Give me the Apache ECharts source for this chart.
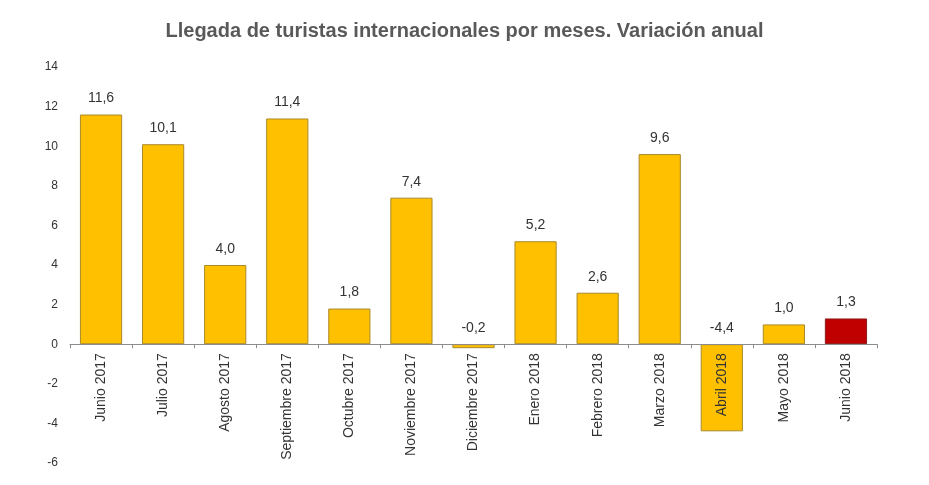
<!DOCTYPE html>
<html>
<head>
<meta charset="utf-8">
<script src="https://cdn.jsdelivr.net/npm/echarts@6/dist/echarts.min.js"></script>
<style>
html,body{margin:0;padding:0;background:#fff;}
#chart{width:929px;height:485px;}
</style>
</head>
<body>
<div id="chart"></div>
<script>
var categories = ['Junio 2017','Julio 2017','Agosto 2017','Septiembre 2017','Octubre 2017','Noviembre 2017','Diciembre 2017','Enero 2018','Febrero 2018','Marzo 2018','Abril 2018','Mayo 2018','Junio 2018'];
var values = [11.6, 10.1, 4.0, 11.4, 1.8, 7.4, -0.2, 5.2, 2.6, 9.6, -4.4, 1.0, 1.3];
var highlightIndex = 12;
var titleText = 'Llegada de turistas internacionales por meses. Variación anual';
var yMin = -6, yMax = 14, yStep = 2;

var gridTop = 67, gridBottom = 22, H = 485;
var plotH = H - gridTop - gridBottom;
var zeroOffset = -plotH * (0 - yMin) / (yMax - yMin);

var chart = echarts.init(document.getElementById('chart'), null, {renderer:'canvas'});
var data = values.map(function(v, i){
  return {
    value: v,
    itemStyle: i === highlightIndex ? {color:'#C00000', borderColor:'#8B1A1A'} : {color:'#FFC000', borderColor:'#A88A2A'}
  };
});
chart.setOption({
  animation:false,
  title:{
    text:titleText,
    left:'center',
    top:16,
    textStyle:{fontFamily:'Liberation Sans, Arial, sans-serif',fontSize:20,fontWeight:'bold',color:'#595959'}
  },
  grid:{left:70,right:52,top:gridTop,bottom:gridBottom,containLabel:false,outerBoundsMode:'none'},
  xAxis:{
    type:'category',
    data:categories,
    z:5,
    offset:zeroOffset,
    axisLine:{onZero:false,lineStyle:{color:'#8c8c8c',width:1}},
    axisTick:{show:true,length:4,alignWithLabel:false,lineStyle:{color:'#8c8c8c'}},
    axisLabel:{rotate:90,margin:9,interval:0,fontFamily:'Liberation Sans, Arial, sans-serif',fontSize:14,color:'#333'},
    splitLine:{show:false}
  },
  yAxis:{
    type:'value',
    min:yMin,max:yMax,interval:yStep,
    axisLine:{show:false},
    axisTick:{show:false},
    splitLine:{show:false},
    axisLabel:{margin:12,fontFamily:'Liberation Sans, Arial, sans-serif',fontSize:12,color:'#333'}
  },
  series:[{
    type:'bar',
    data:data,
    barCategoryGap:'32%',
    itemStyle:{borderWidth:1},
    label:{
      show:true,
      position:'top',
      distance:9,
      fontFamily:'Liberation Sans, Arial, sans-serif',
      fontSize:14,
      color:'#333',
      formatter:function(p){return p.value.toFixed(1).replace('.',',');}
    }
  }]
});
</script>
</body>
</html>
